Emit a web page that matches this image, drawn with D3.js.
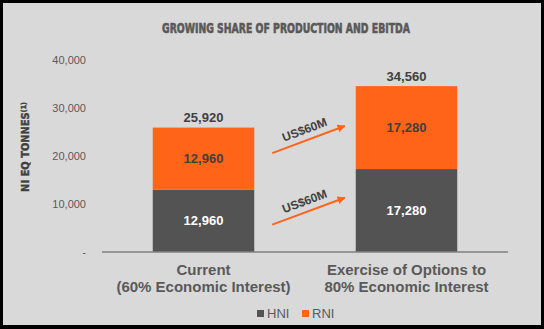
<!DOCTYPE html>
<html>
<head>
<meta charset="utf-8">
<script src="https://cdn.jsdelivr.net/npm/d3@7"></script>
<style>
  body { margin: 0; background: #000; }
  svg { display: block; }
</style>
</head>
<body>
<svg width="544" height="329"></svg>
<script>
const categories = ["Current", "Exercise of Options to"];
const categoryLines = [["Current", "(60% Economic Interest)"], ["Exercise of Options to", "80% Economic Interest"]];
const hni = [12960, 17280];
const rni = [12960, 17280];
const seriesNames = ["HNI", "RNI"];
const yTicks = [0, 10000, 20000, 30000, 40000];
// arrows between the bars, y in tonnes
const arrows = [
    { label: "US$60M", from: 20600, to: 26250 },
    { label: "US$60M", from: 5700, to: 11300 }
];

const colors = { HNI: "#535353", RNI: "#ff6418" };
const textGray = "#595959";
const condensed = "Liberation Sans Narrow, DejaVu Sans Condensed, sans-serif";

const svg = d3.select("svg");

// panel background and frame
svg.append("rect").attr("x", 3).attr("y", 3).attr("width", 538).attr("height", 322).attr("fill", "#d9d9d9");

const x = d3.scaleBand().domain(categories).range([102, 508]).paddingInner(0.5).paddingOuter(0.25);
const y = d3.scaleLinear().domain([0, 40000]).range([252, 60]);

// title
svg.append("text")
    .attr("x", 286).attr("y", 33)
    .attr("text-anchor", "middle")
    .attr("font-family", condensed)
    .attr("font-weight", "bold")
    .attr("font-size", 14)
    .attr("textLength", 248)
    .attr("lengthAdjust", "spacingAndGlyphs")
    .attr("fill", textGray)
    .attr("stroke", textGray)
    .attr("stroke-width", 0.6)
    .text("GROWING SHARE OF PRODUCTION AND EBITDA");

// y axis title
const yTitle = svg.append("text")
    .attr("transform", "translate(29,147) rotate(-90)")
    .attr("text-anchor", "middle")
    .attr("font-family", condensed)
    .attr("font-weight", "bold")
    .attr("font-size", 11)
    .attr("fill", "#404040")
    .attr("stroke", "#404040")
    .attr("stroke-width", 0.4);
yTitle.append("tspan").text("NI EQ TONNES");
yTitle.append("tspan").attr("font-size", 7).attr("dy", -3).text("(1)");

// y tick labels
svg.append("g")
    .selectAll("text")
    .data(yTicks)
    .join("text")
    .attr("x", 86)
    .attr("y", d => y(d))
    .attr("dy", "0.35em")
    .attr("text-anchor", "end")
    .attr("font-family", "Liberation Sans, Arial, sans-serif")
    .attr("font-size", 11)
    .attr("fill", textGray)
    .text(d => d === 0 ? "-" : d3.format(",")(d));

// stacked bars
const rows = categories.map((c, i) => ({ cat: c, HNI: hni[i], RNI: rni[i] }));
const stack = d3.stack().keys(seriesNames)(rows);

svg.append("g")
    .selectAll("g")
    .data(stack)
    .join("g")
    .attr("fill", s => colors[s.key])
    .selectAll("rect")
    .data(s => s)
    .join("rect")
    .attr("x", d => x(d.data.cat))
    .attr("y", d => y(d[1]))
    .attr("width", x.bandwidth())
    .attr("height", d => y(d[0]) - y(d[1]));

// segment labels
svg.append("g")
    .selectAll("g")
    .data(stack)
    .join("g")
    .attr("fill", s => s.key === "HNI" ? "#ffffff" : "#404040")
    .selectAll("text")
    .data(s => s)
    .join("text")
    .attr("x", d => x(d.data.cat) + x.bandwidth() / 2)
    .attr("y", d => (y(d[0]) + y(d[1])) / 2)
    .attr("dy", "0.35em")
    .attr("text-anchor", "middle")
    .attr("font-family", "Liberation Sans, Arial, sans-serif")
    .attr("font-weight", "bold")
    .attr("font-size", 13)
    .text(d => d3.format(",")(d[1] - d[0]));

// totals
svg.append("g")
    .selectAll("text")
    .data(rows)
    .join("text")
    .attr("x", d => x(d.cat) + x.bandwidth() / 2)
    .attr("y", d => y(d.HNI + d.RNI) - 10)
    .attr("dy", "0.35em")
    .attr("text-anchor", "middle")
    .attr("font-family", "Liberation Sans, Arial, sans-serif")
    .attr("font-weight", "bold")
    .attr("font-size", 13)
    .attr("fill", "#404040")
    .text(d => d3.format(",")(d.HNI + d.RNI));

// baseline
svg.append("line")
    .attr("x1", 102).attr("x2", 508)
    .attr("y1", y(0)).attr("y2", y(0))
    .attr("stroke", "#7f7f7f")
    .attr("stroke-width", 1.5);

// arrows
svg.append("defs").append("marker")
    .attr("id", "head")
    .attr("viewBox", "0 0 10 10")
    .attr("refX", 9).attr("refY", 5)
    .attr("markerWidth", 4).attr("markerHeight", 4)
    .attr("orient", "auto")
    .append("path")
    .attr("d", "M0,0L10,5L0,10z")
    .attr("fill", colors.RNI);

const ax1 = x(categories[0]) + x.bandwidth() + 18;
const ax2 = x(categories[1]) - 11;
arrows.forEach(a => {
    const y1 = y(a.from), y2 = y(a.to);
    svg.append("line")
        .attr("x1", ax1).attr("y1", y1)
        .attr("x2", ax2).attr("y2", y2)
        .attr("stroke", colors.RNI)
        .attr("stroke-width", 2)
        .attr("marker-end", "url(#head)");
    const ang = Math.atan2(y2 - y1, ax2 - ax1) * 180 / Math.PI;
    const mx = (ax1 + ax2) / 2 - 4, my = (y1 + y2) / 2 - 10;
    svg.append("text")
        .attr("transform", `translate(${mx},${my}) rotate(${ang})`)
        .attr("text-anchor", "middle")
        .attr("dy", "0.35em")
        .attr("font-family", "Liberation Sans, Arial, sans-serif")
        .attr("font-weight", "bold")
        .attr("font-size", 12)
        .attr("fill", "#404040")
        .text(a.label);
});

// category labels
svg.append("g")
    .selectAll("text")
    .data(categories)
    .join("text")
    .attr("x", d => x(d) + x.bandwidth() / 2)
    .attr("y", 275)
    .attr("text-anchor", "middle")
    .attr("font-family", "Liberation Sans, Arial, sans-serif")
    .attr("font-weight", "bold")
    .attr("font-size", 15)
    .attr("fill", textGray)
    .selectAll("tspan")
    .data((d, i) => categoryLines[i])
    .join("tspan")
    .attr("x", function () { return this.parentNode.getAttribute("x"); })
    .attr("dy", (d, i) => i === 0 ? 0 : 17)
    .text(d => d);

// legend
const legend = svg.append("g")
    .selectAll("g")
    .data(seriesNames)
    .join("g")
    .attr("transform", (d, i) => `translate(${257 + i * 45},310)`);
legend.append("rect").attr("width", 7).attr("height", 7).attr("fill", d => colors[d]);
legend.append("text")
    .attr("x", 10).attr("y", 3.5).attr("dy", "0.35em")
    .attr("font-family", "Liberation Sans, Arial, sans-serif")
    .attr("font-size", 13)
    .attr("fill", textGray)
    .text(d => d);
</script>
</body>
</html>
